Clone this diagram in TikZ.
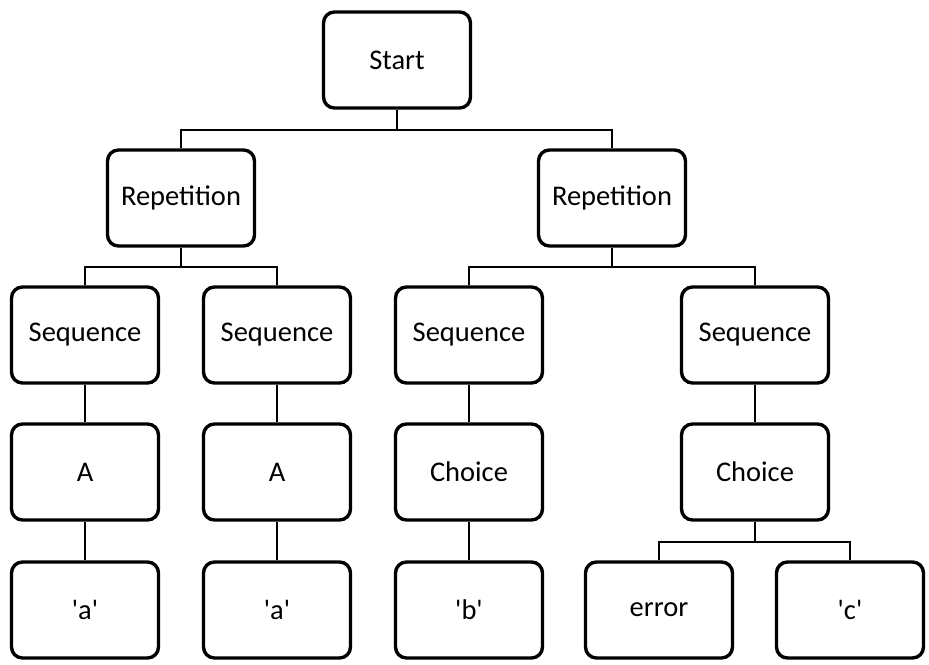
\documentclass[tikz,border=0pt]{standalone}
\usepackage{fontspec}
\setmainfont{Carlito}
\newcommand{\sq}{\textquotesingle}
\begin{document}
\begin{tikzpicture}[x=1pt,y=-1pt,
  box/.style={draw=black, line width=3.4pt, rounded corners=11pt, fill=white,
    minimum width=147pt, minimum height=96pt, inner sep=0pt,
    font=\fontsize{28.5}{32}\selectfont},
  conn/.style={line width=2pt, black}]
\useasboundingbox[fill=white] (0,0) rectangle (929,664);
\node[box] (start) at (397,60) {Start};
\node[box] (rl) at (181,198) {Repetition};
\node[box] (rr) at (612,198) {Repetition};
\node[box] (s1) at (85,335) {Sequence};
\node[box] (s2) at (277,335) {Sequence};
\node[box] (s3) at (469,335) {Sequence};
\node[box] (s4) at (755,335) {Sequence};
\node[box] (a1) at (85,472) {A};
\node[box] (a2) at (277,472) {A};
\node[box] (c3) at (469,472) {Choice};
\node[box] (c4) at (755,472) {Choice};
\node[box] (q1) at (85,610) {\sq a\sq};
\node[box] (q2) at (277,610) {\sq a\sq};
\node[box] (b3) at (469,610) {\sq b\sq};
\node[box] (e4) at (659,610) {error};
\node[box] (q5) at (850,610) {\sq c\sq};
\draw[conn] (start.south) -- ++(0,20) -| (rl.north);
\draw[conn] (start.south) -- ++(0,20) -| (rr.north);
\draw[conn] (rl.south) -- ++(0,19) -| (s1.north);
\draw[conn] (rl.south) -- ++(0,19) -| (s2.north);
\draw[conn] (rr.south) -- ++(0,19) -| (s3.north);
\draw[conn] (rr.south) -- ++(0,19) -| (s4.north);
\draw[conn] (s1) -- (a1);
\draw[conn] (s2) -- (a2);
\draw[conn] (s3) -- (c3);
\draw[conn] (s4) -- (c4);
\draw[conn] (a1) -- (q1);
\draw[conn] (a2) -- (q2);
\draw[conn] (c3) -- (b3);
\draw[conn] (c4.south) -- ++(0,20) -| (e4.north);
\draw[conn] (c4.south) -- ++(0,20) -| (q5.north);
\end{tikzpicture}
\end{document}
